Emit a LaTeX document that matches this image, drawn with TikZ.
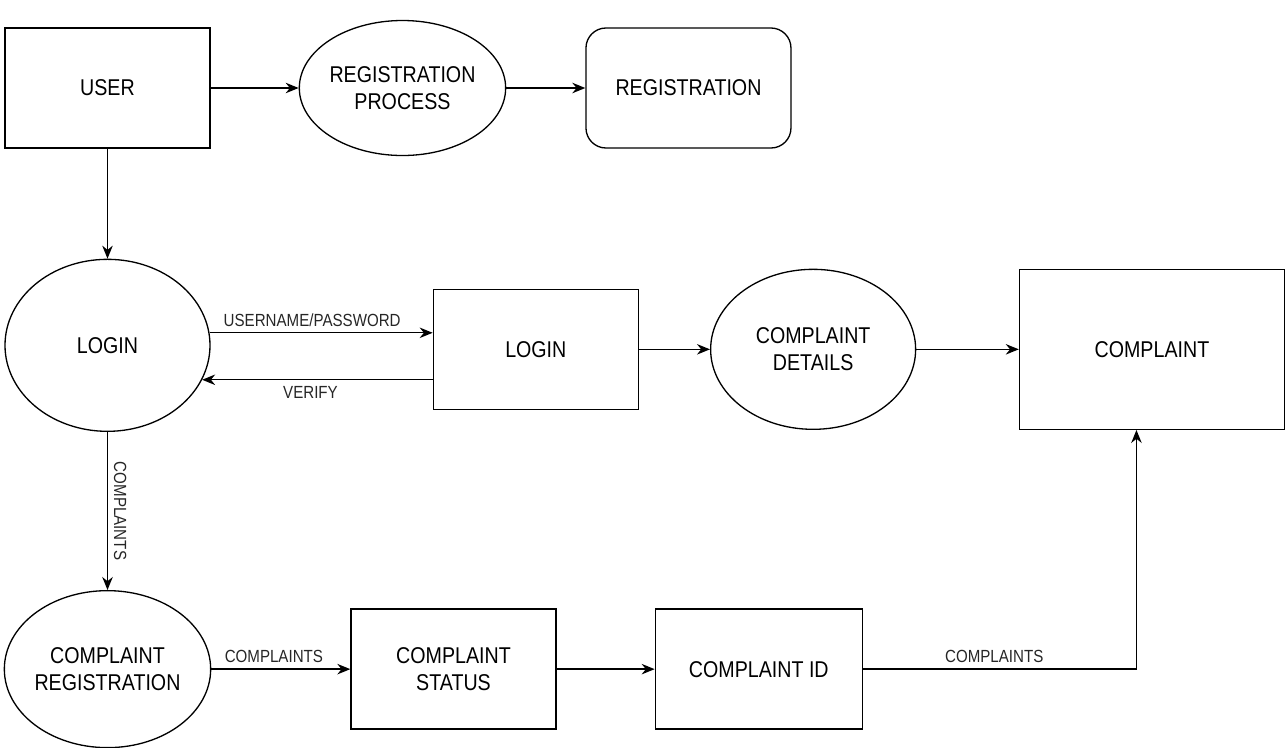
\documentclass[tikz,border=0pt]{standalone}
\usepackage{fontspec}
\setmainfont{Liberation Sans}[FakeStretch=0.86]
\usetikzlibrary{positioning, shapes.geometric, arrows.meta}
\tikzset{entity/.style={draw, rectangle, minimum width=4.1cm, minimum height=2.4cm, align=center, font=\fontsize{13}{15.5}\selectfont},
  store/.style={entity, rounded corners=4mm},
  process/.style={draw, ellipse, inner sep=0pt, minimum width=4.1cm, minimum height=3.2cm, align=center, font=\fontsize{13}{15.5}\selectfont},
  flowlabel/.style={font=\fontsize{10}{12}\selectfont, text=black!85}}

\begin{document}
\begin{tikzpicture}[>={Stealth[length=2.6mm, width=2.1mm]}, line width=0.75pt]
    \useasboundingbox (0,0) rectangle (25.74,-14.94);
    % top row
    \node[entity] (user) at (2.15,-1.76) {USER};
    \node[process, minimum height=2.7cm, right=1.76cm of user] (regproc) {REGISTRATION\\PROCESS};
    \node[store, right=1.58cm of regproc] (reg) {REGISTRATION};
    % middle row
    \node[process, minimum height=3.44cm, below=2.2cm of user] (login) {LOGIN};
    \node[entity, right=4.44cm of login, yshift=-0.08cm] (loginbox) {LOGIN};
    \node[process, right=1.42cm of loginbox] (details) {COMPLAINT\\DETAILS};
    \node[entity, minimum width=5.3cm, minimum height=3.2cm, right=2.05cm of details] (complaint) {COMPLAINT};
    % bottom row
    \node[process, minimum height=3.14cm, below=3.16cm of login] (compreg) {COMPLAINT\\REGISTRATION};
    \node[entity, right=2.78cm of compreg] (status) {COMPLAINT\\STATUS};
    \node[entity, minimum width=4.14cm, right=1.96cm of status] (cid) {COMPLAINT ID};

    \draw[->] (user) -- (regproc);
    \draw[->] (regproc) -- (reg);
    \draw[->] (user) -- (login);

    \draw[->] (login.7) -- (login.7 -| loginbox.west) node [flowlabel, pos=0.46, above] {USERNAME/PASSWORD};
    \draw[->] (login.-20 -| loginbox.west) -- (login.-20) node [flowlabel, pos=0.53, below] {VERIFY};

    \draw[->] (loginbox) -- (details);
    \draw[->] (details) -- (complaint);

    \draw[->] (login) -- (compreg) node [flowlabel, midway, sloped, above] {COMPLAINTS};
    \draw[->] (compreg) -- (status) node [flowlabel, pos=0.45, above] {COMPLAINTS};
    \draw[->] (status) -- (cid);
    \draw[->] (cid.east) -| ([xshift=-0.31cm]complaint.south) node [flowlabel, pos=0.24, above] {COMPLAINTS};
\end{tikzpicture}
\end{document}
